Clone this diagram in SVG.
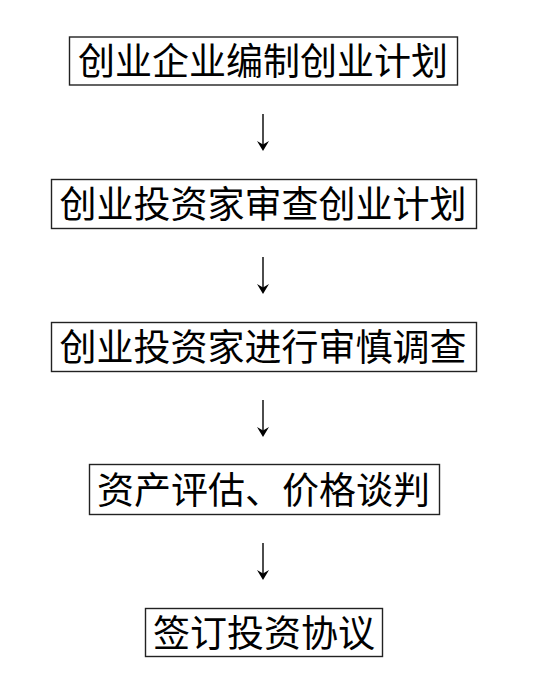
<svg xmlns="http://www.w3.org/2000/svg" width="538" height="673" viewBox="0 0 538 673">
<style>
.box{fill:#fff;stroke:#222;stroke-width:1.4}
.t{font-family:"Noto Sans CJK SC","Noto Sans CJK JP",sans-serif;font-size:37px;fill:#000;text-anchor:middle}
.ln{stroke:#000;stroke-width:1.4;fill:none}
.hd{fill:#000;stroke:none}
</style>
<rect width="538" height="673" fill="#fff"/>
<g id="connectors">
<line class="ln" x1="263" y1="114" x2="263" y2="146"/>
<polygon class="hd" points="257,141 263,144.5 269,141 263,151"/>
<line class="ln" x1="263" y1="257" x2="263" y2="289"/>
<polygon class="hd" points="257,284 263,287.5 269,284 263,294"/>
<line class="ln" x1="263" y1="400" x2="263" y2="432"/>
<polygon class="hd" points="257,427 263,430.5 269,427 263,437"/>
<line class="ln" x1="263" y1="543" x2="263" y2="575"/>
<polygon class="hd" points="257,570 263,573.5 269,570 263,580"/>
</g>
<g id="node1">
<rect class="box" x="69.5" y="37" width="388" height="48"/>
<text class="t" x="263" y="75">创业企业编制创业计划</text>
</g>
<g id="node2">
<rect class="box" x="51.5" y="179.5" width="425" height="49"/>
<text class="t" x="263" y="217.5">创业投资家审查创业计划</text>
</g>
<g id="node3">
<rect class="box" x="51.5" y="322.5" width="425" height="49"/>
<text class="t" x="263" y="361">创业投资家进行审慎调查</text>
</g>
<g id="node4">
<rect class="box" x="89.5" y="464.5" width="350" height="50"/>
<text class="t" x="263.5" y="503.5">资产评估、价格谈判</text>
</g>
<g id="node5">
<rect class="box" x="145.5" y="608.5" width="237" height="48"/>
<text class="t" x="264" y="646.5">签订投资协议</text>
</g>
</svg>
